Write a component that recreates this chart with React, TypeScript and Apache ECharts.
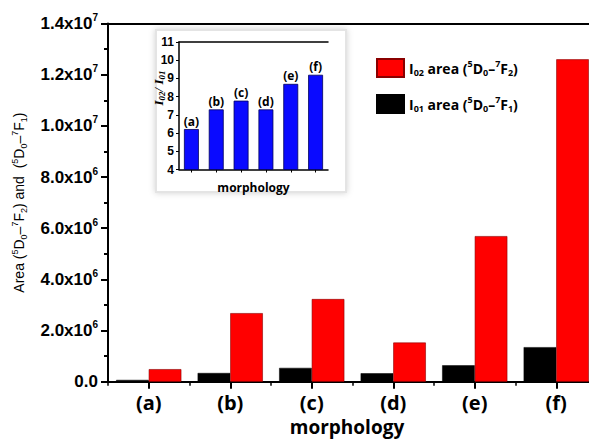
import React, { useEffect, useRef } from "react";
import * as echarts from "echarts";

const categories = ["(a)", "(b)", "(c)", "(d)", "(e)", "(f)"];
const i01Values = [0.07e6, 0.34e6, 0.54e6, 0.33e6, 0.64e6, 1.35e6];
const i02Values = [0.49e6, 2.68e6, 3.23e6, 1.53e6, 5.69e6, 12.6e6];
const ratioValues = [6.22, 7.3, 7.78, 7.3, 8.7, 9.2];
const xAxisTitle = "morphology";

const SANS = "Liberation Sans, Arial, sans-serif";
const WIDE = "Open Sans, sans-serif";

export default function App() {
  const ref = useRef<HTMLDivElement>(null);
  useEffect(() => {
    if (!ref.current) return;
    const chart = echarts.init(ref.current, null, { renderer: "svg" });
    const supRich = {
      n: { fontSize: 17, fontWeight: "bold", fontFamily: SANS, color: "#000", lineHeight: 22 },
      sup: { fontSize: 10, fontWeight: "bold", fontFamily: SANS, color: "#000", verticalAlign: "top", lineHeight: 10 },
    };
    const legRich = {
      n: { fontSize: 14, fontWeight: "bold", fontFamily: WIDE, color: "#000", lineHeight: 18 },
      sub: { fontSize: 9, fontWeight: "bold", fontFamily: WIDE, color: "#000", verticalAlign: "bottom", lineHeight: 12 },
      sup: { fontSize: 9, fontWeight: "bold", fontFamily: WIDE, color: "#000", verticalAlign: "top", lineHeight: 12 },
    };
    const nameRich = {
      n: { fontSize: 14, fontFamily: SANS, color: "#000", lineHeight: 18 },
      sub: { fontSize: 9, fontFamily: SANS, color: "#000", verticalAlign: "bottom", lineHeight: 12 },
      sup: { fontSize: 9, fontFamily: SANS, color: "#000", verticalAlign: "top", lineHeight: 12 },
    };
    const legendText: Record<string, string> = {
      I02: "{n|I}{sub|02}{n| area (}{sup|5}{n|D}{sub|0}{n|–}{sup|7}{n|F}{sub|2}{n|)}",
      I01: "{n|I}{sub|01}{n| area (}{sup|5}{n|D}{sub|0}{n|–}{sup|7}{n|F}{sub|1}{n|)}",
    };
    const yFmt = (v: number) => {
      if (v === 0) return "{n|0.0}";
      const e = Math.floor(Math.log10(v) + 1e-9);
      const m = v / Math.pow(10, e);
      return `{n|${m.toFixed(1)}x10}{sup|${e}}`;
    };
    chart.setOption({
      animation: false,
      backgroundColor: "#fff",
      graphic: [
        {
          type: "rect",
          z: 0,
          zlevel: 0,
          shape: { x: 156, y: 30, width: 190, height: 162 },
          style: { fill: "#fff", stroke: "#e4e4e4", lineWidth: 2, shadowBlur: 6, shadowColor: "rgba(0,0,0,0.18)" },
        },
        {
          type: "text",
          x: 158,
          y: 88,
          rotation: Math.PI / 2,
          z: 10,
          style: {
            text: "{i|I}{s|02}{i|/ I}{s|01}",
            align: "center",
            verticalAlign: "middle",
            rich: {
              i: { fontSize: 13, fontStyle: "italic", fontWeight: "bold", fontFamily: "Liberation Serif, serif", fill: "#000", lineHeight: 16 },
              s: { fontSize: 9, fontStyle: "italic", fontWeight: "bold", fontFamily: "Liberation Serif, serif", fill: "#000", verticalAlign: "bottom", lineHeight: 10 },
            },
          },
        },
        {
          type: "text",
          x: 347,
          y: 427,
          z: 10,
          style: {
            text: xAxisTitle,
            align: "center",
            verticalAlign: "middle",
            fontSize: 19,
            lineHeight: 20,
            fontWeight: "bold",
            fontFamily: WIDE,
            fill: "#000",
          },
        },
      ],
      legend: {
        orient: "vertical",
        left: 371,
        top: 53,
        itemWidth: 27,
        itemHeight: 18,
        itemGap: 16,
        icon: "rect",
        data: ["I02", "I01"],
        formatter: (name: string) => legendText[name],
        textStyle: { rich: legRich, padding: [0, 0, 0, 0] },
      },
      grid: [
        { left: 108, top: 23.5, width: 489, height: 358.2, outerBoundsMode: "none", containLabel: false },
        { left: 179, top: 42, width: 149, height: 127.5, z: 5, outerBoundsMode: "none", containLabel: false },
      ],
      xAxis: [
        {
          type: "category",
          gridIndex: 0,
          data: categories,
          position: "bottom",
          axisLine: { show: true, lineStyle: { color: "#000", width: 2 } },
          axisTick: { show: true, alignWithLabel: true, length: 7, lineStyle: { color: "#000", width: 2 } },
          axisLabel: { margin: 11, fontSize: 20, lineHeight: 20, fontWeight: "bold", fontFamily: WIDE, color: "#000" },
        },
        {
          type: "category",
          gridIndex: 0,
          data: categories,
          position: "bottom",
          axisLine: { show: false },
          axisTick: { show: true, length: 4, lineStyle: { color: "#000", width: 1.5 } },
          axisLabel: { show: false },
        },
        {
          type: "category",
          gridIndex: 0,
          data: categories,
          position: "top",
          axisLine: { show: true, lineStyle: { color: "#000", width: 2 } },
          axisTick: { show: false },
          axisLabel: { show: false },
        },
        {
          type: "category",
          gridIndex: 1,
          data: categories,
          position: "bottom",
          axisLine: { show: true, lineStyle: { color: "#000", width: 1.5 } },
          axisTick: { show: true, alignWithLabel: true, length: 3, lineStyle: { color: "#000", width: 1 } },
          axisLabel: { show: false },
          name: "morphology",
          nameLocation: "middle",
          nameGap: 12,
          nameTextStyle: { fontSize: 12, fontWeight: "bold", fontFamily: WIDE, color: "#000" },
        },
        {
          type: "category",
          gridIndex: 1,
          data: categories,
          position: "top",
          axisLine: { show: true, lineStyle: { color: "#000", width: 1.5 } },
          axisTick: { show: false },
          axisLabel: { show: false },
        },
      ],
      yAxis: [
        {
          type: "value",
          gridIndex: 0,
          min: 0,
          max: 1.4e7,
          interval: 2e6,
          splitLine: { show: false },
          axisLine: { show: true, lineStyle: { color: "#000", width: 2 } },
          axisTick: { show: true, length: 7, lineStyle: { color: "#000", width: 2 } },
          minorTick: { show: true, splitNumber: 2, length: 4, lineStyle: { color: "#000", width: 2 } },
          axisLabel: { margin: 10, formatter: yFmt, rich: supRich },
          name: "{n|Area (}{sup|5}{n|D}{sub|0}{n|–}{sup|7}{n|F}{sub|2}{n|) and  (}{sup|5}{n|D}{sub|0}{n|–}{sup|7}{n|F}{sub|1}{n|)}",
          nameLocation: "middle",
          nameRotate: 90,
          nameGap: 80,
          nameTextStyle: { rich: nameRich },
        },
        {
          type: "value",
          gridIndex: 1,
          min: 4,
          max: 11,
          interval: 1,
          splitLine: { show: false },
          axisLine: { show: true, lineStyle: { color: "#000", width: 1.5 } },
          axisTick: { show: true, length: 3, lineStyle: { color: "#000", width: 1 } },
          axisLabel: { margin: 5, fontSize: 12, fontWeight: "bold", fontFamily: SANS, color: "#000" },
        },
      ],
      series: [
        {
          name: "I01",
          type: "bar",
          xAxisIndex: 0,
          yAxisIndex: 0,
          data: i01Values,
          barWidth: "40%",
          barGap: "0%",
          itemStyle: { color: "#000", borderColor: "#000", borderWidth: 0.5 },
        },
        {
          name: "I02",
          type: "bar",
          xAxisIndex: 0,
          yAxisIndex: 0,
          data: i02Values,
          barWidth: "40%",
          barGap: "0%",
          itemStyle: { color: "#ff0000", borderColor: "#8a0000", borderWidth: 0.6 },
        },
        {
          name: "ratio",
          type: "bar",
          xAxisIndex: 3,
          yAxisIndex: 1,
          data: ratioValues,
          barWidth: "60%",
          z: 6,
          itemStyle: { color: "#0a0aff", borderColor: "#00005a", borderWidth: 0.8 },
          label: {
            show: true,
            position: "top",
            distance: 2,
            formatter: (p: any) => categories[p.dataIndex],
            fontSize: 12,
            fontWeight: "bold",
            fontFamily: WIDE,
            color: "#000",
          },
        },
      ],
    });
    return () => chart.dispose();
  }, []);
  return <div ref={ref} style={{ width: 589, height: 440, position: "absolute", left: 0, top: 0 }} />;
}
